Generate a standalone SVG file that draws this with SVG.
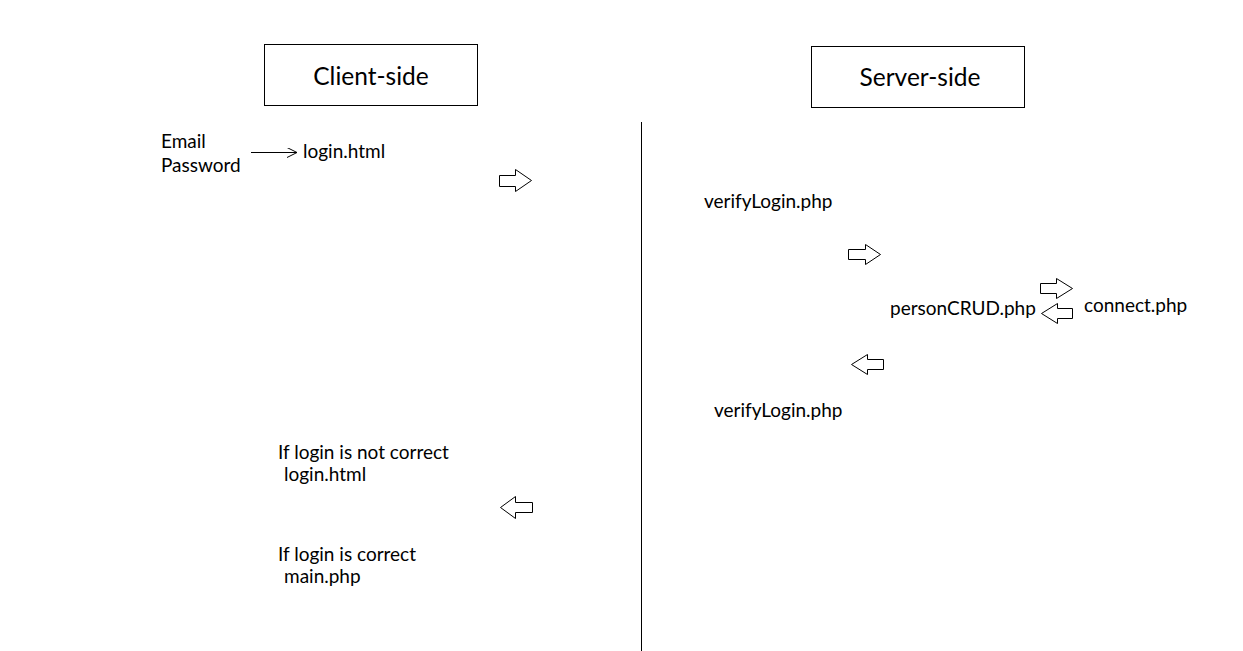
<svg xmlns="http://www.w3.org/2000/svg" width="1243" height="651" viewBox="0 0 1243 651">
<defs>
<style>
.t{font-family:Lato,"Open Sans","Liberation Sans",sans-serif;font-size:19px;fill:#000}
.h{font-family:Lato,"Open Sans","Liberation Sans",sans-serif;font-size:24.5px;fill:#000;text-anchor:middle}
.box{fill:#fff;stroke:#000;stroke-width:1}
.ba{fill:#fff;stroke:#000;stroke-width:1}
.ln{stroke:#000;stroke-width:1;fill:none}
</style>
<marker id="open" viewBox="0 0 10 10" refX="10" refY="5" markerWidth="10" markerHeight="10" markerUnits="userSpaceOnUse" orient="auto">
<path d="M0,0 L10,5 L0,10" fill="none" stroke="#000" stroke-width="1"/>
</marker>
</defs>
<rect width="1243" height="651" fill="#fff"/>
<g id="client-header"><rect class="box" x="264.5" y="44.5" width="213" height="61"/><text class="h" x="371" y="85">Client-side</text></g>
<g id="server-header"><rect class="box" x="811.5" y="46.5" width="213" height="61"/><text class="h" x="920" y="86">Server-side</text></g>
<g id="divider"><line class="ln" x1="641.5" y1="122" x2="641.5" y2="651"/></g>
<g id="inputs"><text class="t" x="161" y="148">Email</text><text class="t" x="161" y="172">Password</text></g>
<g id="login-html"><text class="t" x="303" y="158">login.html</text></g>
<g id="verifyLogin1"><text class="t" x="704" y="208">verifyLogin.php</text></g>
<g id="personCRUD"><text class="t" x="890" y="315">personCRUD.php</text></g>
<g id="connect"><text class="t" x="1084" y="312">connect.php</text></g>
<g id="verifyLogin2"><text class="t" x="714" y="417">verifyLogin.php</text></g>
<g id="not-correct"><text class="t" x="278" y="459">If login is not correct</text><text class="t" x="284" y="481">login.html</text></g>
<g id="correct"><text class="t" x="278" y="561">If login is correct</text><text class="t" x="284" y="583">main.php</text></g>
<g id="connectors">
<line class="ln" x1="251" y1="152.5" x2="297" y2="152.5" marker-end="url(#open)"/>
<path class="ba" d="M499.5,175.5 H515.5 V169.5 L531.5,180.5 L515.5,191.5 V186.5 H499.5 Z"/>
<path class="ba" d="M848.5,249.5 H865.5 V244.5 L880.5,254.5 L865.5,264.5 V259.5 H848.5 Z"/>
<path class="ba" d="M1040.5,283.5 H1056.5 V278.5 L1072.5,288.5 L1056.5,298.5 V293.5 H1040.5 Z"/>
<path class="ba" d="M1072.5,308.5 H1057.5 V303.5 L1041.5,313.5 L1057.5,323.5 V318.5 H1072.5 Z"/>
<path class="ba" d="M883.5,359.5 H867.5 V354.5 L851.5,364.5 L867.5,374.5 V369.5 H883.5 Z"/>
<path class="ba" d="M532.5,502.5 H515.5 V496.5 L500.5,507.5 L515.5,518.5 V512.5 H532.5 Z"/>
</g>
</svg>
